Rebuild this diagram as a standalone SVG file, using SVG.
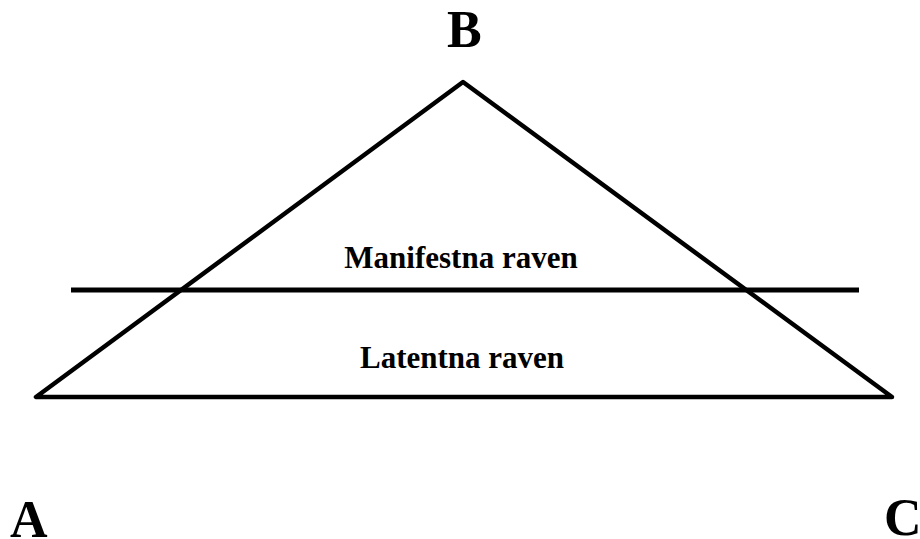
<svg xmlns="http://www.w3.org/2000/svg" width="920" height="539" viewBox="0 0 920 539">
<style>
.ln{stroke:#000;stroke-width:4.5;fill:none;stroke-linejoin:round;stroke-linecap:round}
.big{font-family:"Liberation Serif","Times New Roman",serif;font-weight:bold;font-size:52px;fill:#000}
.lbl{font-family:"Liberation Serif","Times New Roman",serif;font-weight:bold;font-size:31px;fill:#000;text-anchor:middle}
</style>
<rect width="920" height="539" fill="#fff"/>
<g id="connectors">
<polygon class="ln" points="463,82 36,397 892,397"/>
<line class="ln" x1="71" y1="290" x2="859" y2="290" style="stroke-linecap:butt;stroke-width:5"/>
</g>
<g id="B"><text class="big" x="447" y="47">B</text></g>
<g id="A"><text class="big" x="10" y="537">A</text></g>
<g id="C"><text class="big" x="884" y="535">C</text></g>
<g id="manifest"><text class="lbl" x="461" y="268">Manifestna raven</text></g>
<g id="latent"><text class="lbl" x="462" y="368">Latentna raven</text></g>
</svg>
